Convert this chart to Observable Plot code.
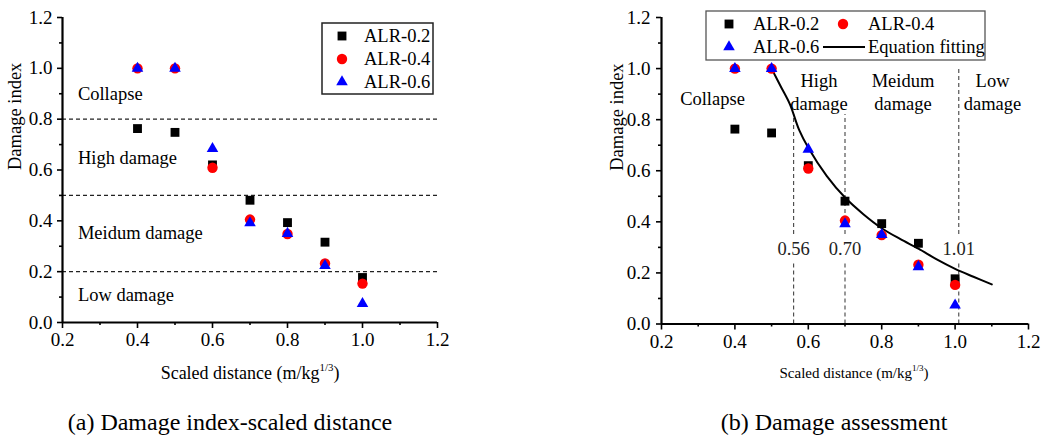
<!DOCTYPE html>
<html><head><meta charset="utf-8">
<script src="https://cdn.jsdelivr.net/npm/d3@7"></script>
<script src="https://cdn.jsdelivr.net/npm/@observablehq/plot@0.6"></script>
<style>
body{margin:0;background:#fff;font-family:'Liberation Serif',serif;}
#page{position:relative;width:1059px;height:436px;overflow:hidden;background:#fff;color:#000;font-family:'Liberation Serif',serif;}
#page svg{position:absolute;top:0;}
#page svg text{font-family:'Liberation Serif',serif;}
.txt{position:absolute;white-space:nowrap;line-height:1;transform:translateX(-50%);font-family:'Liberation Serif',serif;}
.txt sup{font-size:0.6em;vertical-align:0.75em;line-height:0;}
</style></head>
<body><div id="page"></div>
<script>
// ---- data ----
const scaledDistance = [0.4, 0.5, 0.6, 0.7, 0.8, 0.9, 1.0];
const alr02 = [0.763, 0.748, 0.62, 0.481, 0.393, 0.316, 0.177];
const alr04 = [1.0, 1.0, 0.609, 0.405, 0.348, 0.232, 0.153];
const alr06 = [1.0, 1.0, 0.684, 0.392, 0.35, 0.224, 0.074];
const fitX = [0.5, 0.525, 0.55, 0.575, 0.6, 0.65, 0.7, 0.75, 0.8, 0.85, 0.9, 0.95, 1.0, 1.05, 1.1];
const fitY = [1.0, 0.93, 0.86, 0.76, 0.69, 0.58, 0.495, 0.43, 0.375, 0.333, 0.295, 0.253, 0.216, 0.185, 0.155];
const damageThresholds = [0.8, 0.5, 0.2];
const distanceThresholds = [0.56, 0.70, 1.01];
const distanceThresholdTops = [0.82, 0.82, 1.0];
const thresholdLabels = ["0.56", "0.70", "1.01"];
const seriesNames = ["ALR-0.2", "ALR-0.4", "ALR-0.6"];
const fitName = "Equation fitting";
const xTicks = [0.2, 0.4, 0.6, 0.8, 1.0, 1.2];
const xMinorTicks = [0.3, 0.5, 0.7, 0.9, 1.1];
const yTicks = [0, 0.2, 0.4, 0.6, 0.8, 1.0, 1.2];
const yMinorTicks = [0.1, 0.3, 0.5, 0.7, 0.9, 1.1];
const zoneNamesA = ["Collapse", "High damage", "Meidum damage", "Low damage"];
const zoneYA = [0.9, 0.645, 0.353, 0.108];
const zoneNamesB = ["Collapse", "High\ndamage", "Meidum\ndamage", "Low\ndamage"];
const zoneXB = [0.339, 0.629, 0.858, 1.102];
const zoneYB = [0.888, 0.913, 0.913, 0.913];
const yTitle = "Damage index";
const captions = ["(a) Damage index-scaled distance", "(b) Damage assessment"];

// ---- build tables ----
const series = [alr02, alr04, alr06].map((vals, k) =>
  scaledDistance.map((x, i) => ({x, y: vals[i], s: seriesNames[k]})));
const fit = fitX.map((x, i) => ({x, y: fitY[i]}));
const symbols = ["square", "circle", "triangle"];
const colors = ["#000000", "#ff0000", "#0000ff"];
const radii = [5, 5.2, 4.3];
const FONT = "'Liberation Serif', serif";

function axes(tickPadY) {
  return [
    Plot.axisX(xTicks, {tickSize: 6, tickPadding: 4, tickFormat: ".1f", fontSize: 19, strokeWidth: 1.6, label: null}),
    Plot.axisX(xMinorTicks, {tickSize: 3, text: null, strokeWidth: 1.6, label: null}),
    Plot.axisY(yTicks, {tickSize: 5, tickPadding: tickPadY, tickFormat: ".1f", fontSize: 19, strokeWidth: 1.6, label: null}),
    Plot.axisY(yMinorTicks, {tickSize: 3, text: null, strokeWidth: 1.6, label: null}),
    Plot.ruleX([0.2], {strokeWidth: 2.2}),
    Plot.ruleY([0], {strokeWidth: 2.2})
  ];
}
function dots() {
  return series.map((d, k) => Plot.dot(d, {x: "x", y: "y", symbol: symbols[k], fill: colors[k], r: radii[k], stroke: "none"}));
}

const page = document.getElementById("page");

// Panel (a)
const plotA = Plot.plot({
  width: 460, height: 360,
  marginLeft: 62, marginRight: 23, marginTop: 17, marginBottom: 38,
  style: {fontFamily: FONT, fontSize: "19px", color: "#000", background: "transparent", overflow: "visible"},
  x: {domain: [0.2, 1.2]},
  y: {domain: [0, 1.2]},
  marks: [
    Plot.ruleY(damageThresholds, {stroke: "#222", strokeDasharray: "4,3", strokeWidth: 1.1}),
    Plot.text(zoneNamesA, {x: () => 0.241, y: (d, i) => zoneYA[i], text: d => d, textAnchor: "start", fontSize: 18.5}),
    ...dots(),
    ...axes(5),
    Plot.text([yTitle], {frameAnchor: "left", rotate: -90, dx: -47, text: d => d, fontSize: 18.5})
  ]
});
plotA.style.left = "0px";
page.appendChild(plotA);

// Panel (b)
const plotB = Plot.plot({
  width: 539, height: 360,
  marginLeft: 141, marginRight: 31, marginTop: 17, marginBottom: 36.5,
  style: {fontFamily: FONT, fontSize: "19px", color: "#000", background: "transparent", overflow: "visible"},
  x: {domain: [0.2, 1.2]},
  y: {domain: [0, 1.2]},
  marks: [
    Plot.ruleX(distanceThresholds, {x: d => d, y1: 0, y2: 0.236, stroke: "#444", strokeDasharray: "4,3", strokeWidth: 1.1}),
    Plot.ruleX(distanceThresholds, {x: d => d, y1: 0.35, y2: (d, i) => distanceThresholdTops[i], stroke: "#444", strokeDasharray: "4,3", strokeWidth: 1.1}),
    Plot.text(thresholdLabels, {x: (d, i) => distanceThresholds[i], y: () => 0.295, text: d => d, fontSize: 18.5, fill: "#222"}),
    Plot.text(zoneNamesB, {x: (d, i) => zoneXB[i], y: (d, i) => zoneYB[i], text: d => d, fontSize: 18.5, lineHeight: 1.24}),
    Plot.line(fit, {x: "x", y: "y", curve: "catmull-rom", stroke: "#000", strokeWidth: 2}),
    ...dots(),
    ...axes(6),
    Plot.text([yTitle], {frameAnchor: "left", rotate: -90, dx: -44, text: d => d, fontSize: 18.5})
  ]
});
plotB.style.left = "520px";
page.appendChild(plotB);

// Legends (overlay)
const ov = d3.select(page).append("svg")
  .attr("width", 1059).attr("height", 436)
  .style("left", "0px").style("font-family", FONT).style("font-size", "18.5px");
function sym(g, k, cx, cy) {
  const type = {square: d3.symbolSquare, circle: d3.symbolCircle, triangle: d3.symbolTriangle}[symbols[k]];
  g.append("path").attr("d", d3.symbol(type, Math.PI * radii[k] * radii[k])())
    .attr("transform", `translate(${cx},${cy})`).attr("fill", colors[k]);
}
function label(g, t, x, y) {
  g.append("text").attr("x", x).attr("y", y).attr("dy", "0.35em").text(t);
}
// legend (a)
const la = ov.append("g");
la.append("rect").attr("x", 322).attr("y", 23).attr("width", 111).attr("height", 71)
  .attr("fill", "#fff").attr("stroke", "#222").attr("stroke-width", 1.5);
[36, 59, 82].forEach((yy, k) => { sym(la, k, 342, yy); label(la, seriesNames[k], 364, yy); });
// legend (b)
const lb = ov.append("g");
lb.append("rect").attr("x", 706).attr("y", 11).attr("width", 279).attr("height", 49)
  .attr("fill", "#fff").attr("stroke", "#555").attr("stroke-width", 1.3);
sym(lb, 0, 729, 24); label(lb, seriesNames[0], 753, 24);
sym(lb, 1, 843, 24); label(lb, seriesNames[1], 868, 24);
sym(lb, 2, 729, 47); label(lb, seriesNames[2], 753, 47);
lb.append("line").attr("x1", 823).attr("x2", 865).attr("y1", 47).attr("y2", 47).attr("stroke", "#000").attr("stroke-width", 2);
label(lb, fitName, 868, 47);

// Axis titles and captions (HTML)
function addText(html, cx, top, size) {
  const d = document.createElement("div");
  d.className = "txt";
  d.style.left = cx + "px"; d.style.top = top + "px"; d.style.fontSize = size + "px";
  d.innerHTML = html;
  page.appendChild(d);
}
addText("Scaled distance (m/kg<sup>1/3</sup>)", 250, 364, 18);
addText("Scaled distance (m/kg<sup>1/3</sup>)", 854, 366, 15);
addText(captions[0], 230, 410, 24);
addText(captions[1], 834, 410, 24);
</script>
</body></html>
